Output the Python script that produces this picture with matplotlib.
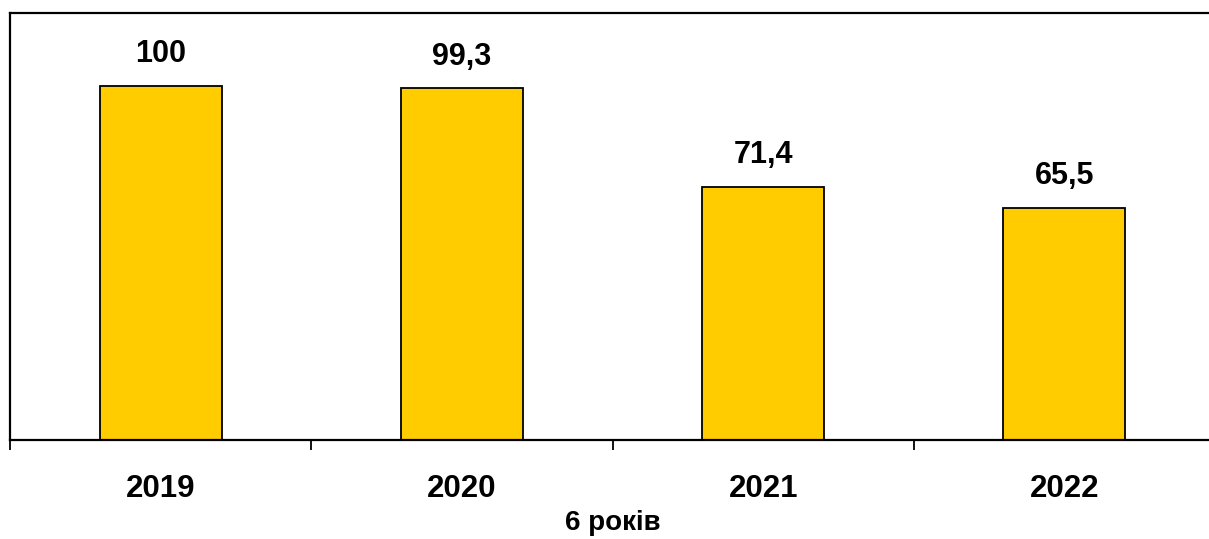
import numpy as np
import matplotlib
matplotlib.use("Agg")
import matplotlib.pyplot as plt
from matplotlib.ticker import FixedLocator

years = ["2019", "2020", "2021", "2022"]
values = [100, 99.3, 71.4, 65.5]
value_labels = ["100", "99,3", "71,4", "65,5"]
axis_title = "6 років"

plt.rcParams['font.family'] = ['Liberation Sans', 'DejaVu Sans']
plt.rcParams['font.weight'] = 'bold'

fig = plt.figure(figsize=(12.09, 5.39), dpi=100)
ax = fig.add_axes([10 / 1209, 99.4 / 539, 1205 / 1209, 426.6 / 539])

x = np.arange(len(years))
bars = ax.bar(x, values, width=0.405, color='#FFCC00', edgecolor='black', linewidth=1.3)

for rect, lab in zip(bars, value_labels):
    ax.annotate(lab, (rect.get_x() + rect.get_width() / 2, rect.get_height()),
                xytext=(0, 12), textcoords='offset points',
                ha='center', va='bottom', fontsize=22, fontweight='bold')

ax.set_xlim(-0.5, len(years) - 0.5)
ax.set_ylim(0, 120.6)

ax.set_xticks(x)
ax.set_xticklabels(years, fontsize=22.5, fontweight='bold')
ax.tick_params(axis='x', which='major', length=0, pad=25)
ax.xaxis.set_minor_locator(FixedLocator(np.arange(len(years) + 1) - 0.5))
ax.tick_params(axis='x', which='minor', length=7.5, width=1.3, direction='out')
ax.set_yticks([])

ax.set_xlabel(axis_title, fontsize=20, fontweight='bold', labelpad=4)

for side in ['left', 'top', 'bottom']:
    ax.spines[side].set_linewidth(1.6)
ax.spines['right'].set_visible(False)

fig.savefig("out.png", dpi=100, facecolor='white')
